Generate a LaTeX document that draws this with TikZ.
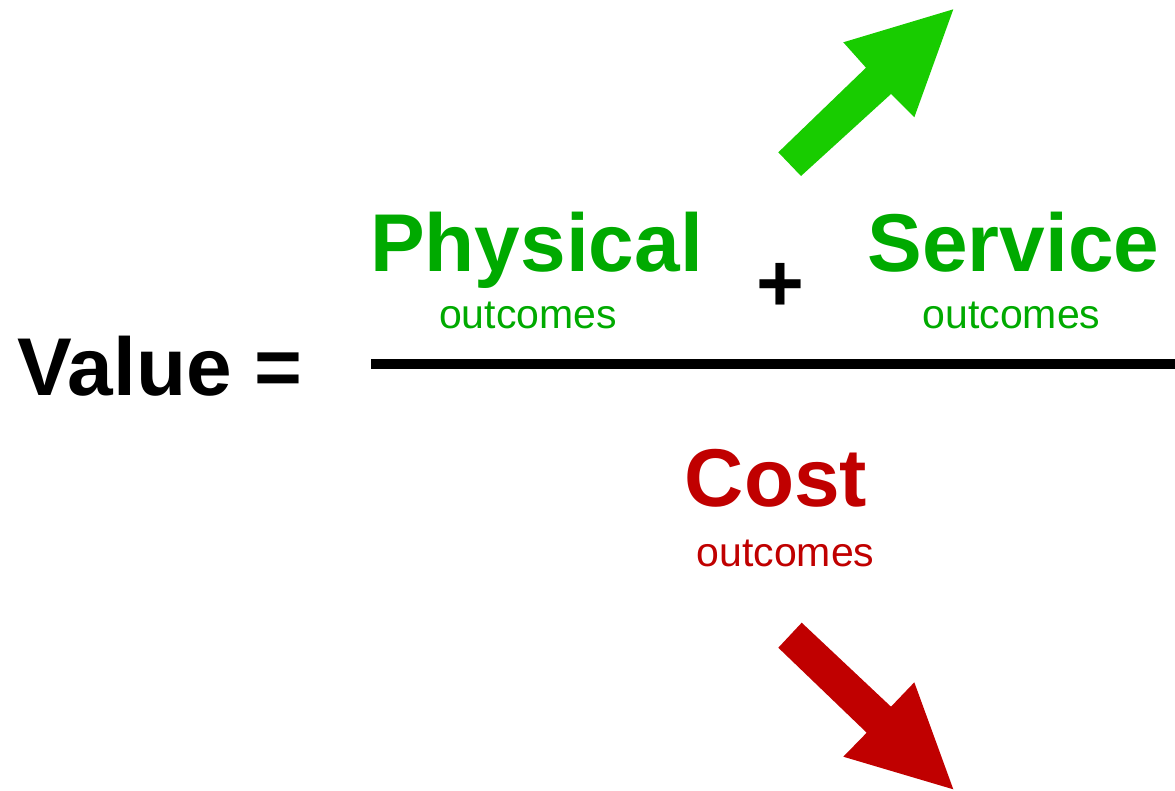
\documentclass[tikz,border=0pt]{standalone}
\usepackage{fontspec}
\setmainfont{Liberation Sans}
\definecolor{txtgreen}{HTML}{00AA00}
\definecolor{arrgreen}{HTML}{18CC00}
\definecolor{costred}{HTML}{C00000}
\begin{document}
\begin{tikzpicture}[x=1pt,y=-1pt,
  big/.style={inner sep=0pt, anchor=base, font=\fontsize{82}{90}\selectfont\bfseries},
  small/.style={inner sep=0pt, anchor=base, font=\fontsize{41}{46}\selectfont},
]
\useasboundingbox (0,0) rectangle (1175,790);

% left-hand side
\node[big] (value) at (160,395) {Value =};

% fraction bar
\draw[line width=10pt] (371,364) coordinate (barL) -- (1175,364) coordinate (barR);

% numerator
\node[big, txtgreen] (phys) at (536.5,271) {Physical};
\node[small, txtgreen] (physout) at (528,328) {outcomes};
\node[big] (plus) at (780,311) {+};
\node[big, txtgreen] (serv) at (1013.5,271) {Service};
\node[small, txtgreen] (servout) at (1011.5,328) {outcomes};

% denominator
\node[big, costred] (cost) at (776,506) {Cost};
\node[small, costred] (costout) at (785.5,566) {outcomes};

% rising arrow
\fill[arrgreen] (778.3,152.3) -- (866,67.7) -- (843.3,42.3) -- (953.3,9.3)
  -- (914.3,117.3) -- (891,94) -- (801,176) -- cycle;

% falling arrow
\fill[costred] (801.7,622.7) -- (891,706.7) -- (914.3,682.3) -- (953.3,789.3)
  -- (843.3,756.7) -- (866.7,732.7) -- (778.3,647.7) -- cycle;
\end{tikzpicture}
\end{document}
